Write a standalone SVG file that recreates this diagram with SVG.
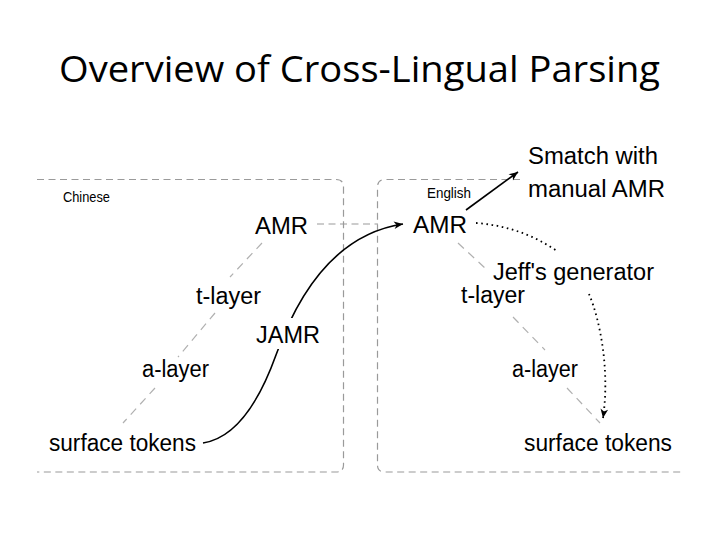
<svg xmlns="http://www.w3.org/2000/svg" width="720" height="540" viewBox="0 0 720 540">
<style>
  .lbl { font-family: "Liberation Sans", Arial, sans-serif; font-size: 23.5px; fill: #000; }
  .sm { font-family: "Liberation Sans", Arial, sans-serif; font-size: 14.5px; fill: #000; }
  .title { font-family: "Open Sans", "Liberation Sans", sans-serif; font-size: 36px; fill: #000; }
  .box { fill: none; stroke: #9a9a9a; stroke-width: 1.2; stroke-dasharray: 7 4.5; }
  .diag { fill: none; stroke: #b0b0b0; stroke-width: 1.2; stroke-dasharray: 8 6; }
  .solid { fill: none; stroke: #000; stroke-width: 1.6; }
  .dot { fill: none; stroke: #000; stroke-width: 1.8; stroke-dasharray: 1.6 3.6; }
</style>
<defs>
  <marker id="arr" markerUnits="userSpaceOnUse" markerWidth="12" markerHeight="10" viewBox="-10 -5 12 10" refX="0" refY="0" orient="auto">
    <path d="M0,0 L-9,-3.8 L-6.5,0 L-9,3.8 Z" fill="#000"/>
  </marker>
</defs>
<rect width="720" height="540" fill="#fff"/>

<text class="title" x="59" y="82" textLength="601" lengthAdjust="spacingAndGlyphs">Overview of Cross-Lingual Parsing</text>

<g id="boxes">
  <path id="chinese-box" class="box" d="M37,179.5 H336 Q343.5,179.5 343.5,187 V465 Q343.5,472 336,472 H37"/>
  <path id="english-box" class="box" d="M520,179.5 H385 Q377.5,179.5 377.5,187 V465 Q377.5,472 385,472 H683"/>
</g>

<g id="connectors">
  <path class="diag" d="M262,243 L230,277"/>
  <path class="diag" d="M215,313 L178,357"/>
  <path class="diag" d="M155,388 L123,423"/>
  <path class="box" d="M317,224 H378"/>
  <path class="diag" d="M458,243 L485,268"/>
  <path class="diag" d="M513,317 L545,350"/>
  <path class="diag" d="M567,388 L600,423"/>
  <path class="solid" d="M203,443 C235,438 258,405 276,355 C294,305 330,235 403,224" marker-end="url(#arr)"/>
  <path class="solid" d="M466,210 L518,172" marker-end="url(#arr)"/>
  <path class="dot" d="M476,223 Q520,226 557,251"/>
  <path class="dot" d="M589,294 C600,320 610,370 603,418" marker-end="url(#arr)"/>
</g>

<g id="chinese-label"><text class="sm" x="63" y="202" textLength="47" lengthAdjust="spacingAndGlyphs">Chinese</text></g>
<g id="english-label"><text class="sm" x="427" y="198" textLength="44" lengthAdjust="spacingAndGlyphs">English</text></g>

<g id="zh-amr"><text class="lbl" x="255" y="234" textLength="53" lengthAdjust="spacingAndGlyphs">AMR</text></g>
<g id="zh-tlayer"><text class="lbl" x="196" y="304" textLength="65" lengthAdjust="spacingAndGlyphs">t-layer</text></g>
<g id="jamr"><rect x="253" y="318" width="70" height="31" fill="#fff"/><text class="lbl" x="256" y="343" textLength="64" lengthAdjust="spacingAndGlyphs">JAMR</text></g>
<g id="zh-alayer"><text class="lbl" x="142" y="377" textLength="67" lengthAdjust="spacingAndGlyphs">a-layer</text></g>
<g id="zh-surface"><text class="lbl" x="49" y="451" textLength="147" lengthAdjust="spacingAndGlyphs">surface tokens</text></g>

<g id="en-amr"><text class="lbl" x="413" y="233" textLength="54" lengthAdjust="spacingAndGlyphs">AMR</text></g>
<g id="smatch"><text class="lbl" x="528" y="164" textLength="130" lengthAdjust="spacingAndGlyphs">Smatch with</text><text class="lbl" x="528" y="197" textLength="137" lengthAdjust="spacingAndGlyphs">manual AMR</text></g>
<g id="generator"><text class="lbl" x="493" y="280" textLength="161" lengthAdjust="spacingAndGlyphs">Jeff's generator</text></g>
<g id="en-tlayer"><text class="lbl" x="461" y="303" textLength="64" lengthAdjust="spacingAndGlyphs">t-layer</text></g>
<g id="en-alayer"><text class="lbl" x="512" y="377" textLength="66" lengthAdjust="spacingAndGlyphs">a-layer</text></g>
<g id="en-surface"><text class="lbl" x="524" y="451" textLength="148" lengthAdjust="spacingAndGlyphs">surface tokens</text></g>
</svg>
